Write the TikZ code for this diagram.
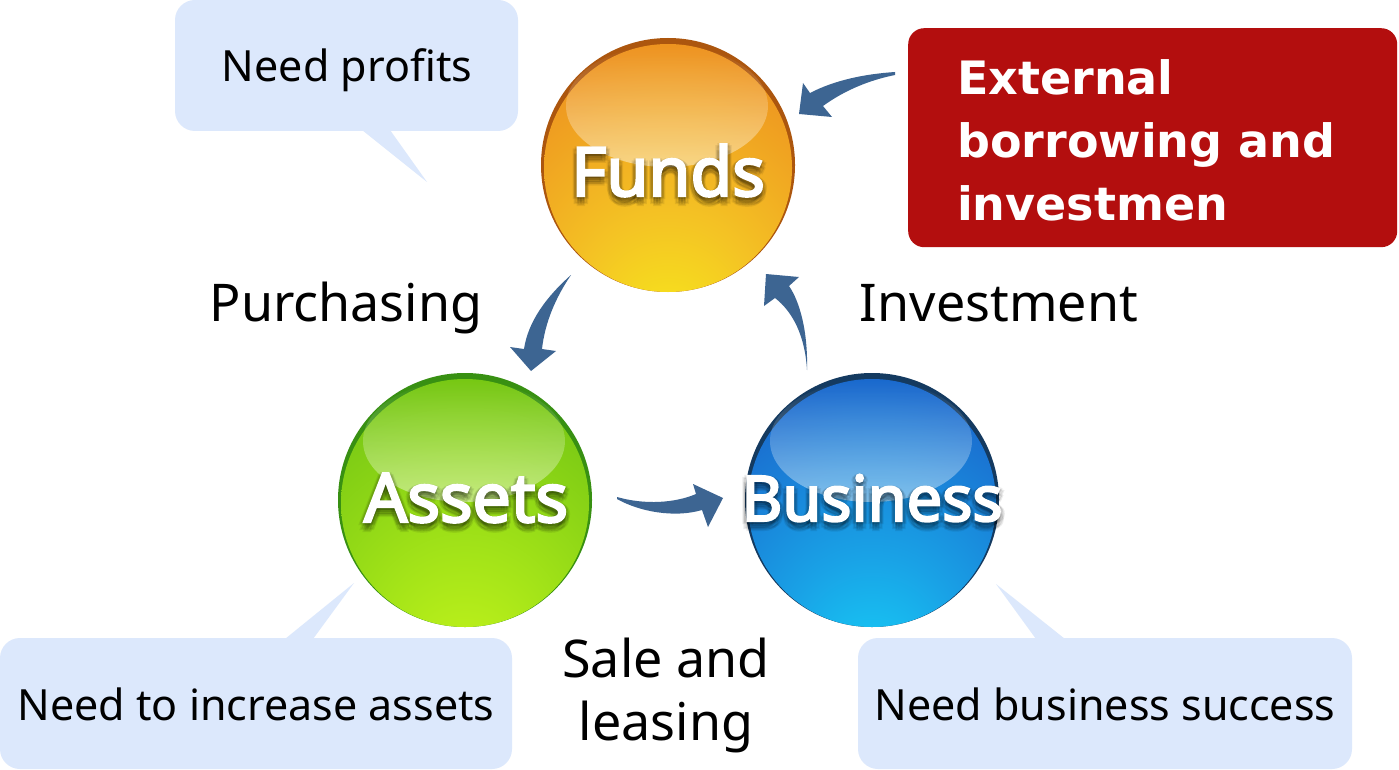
\documentclass[tikz,border=0pt]{standalone}
\usepackage{fontspec}
\setmainfont{Noto Sans}
\newfontfamily\sphfont{Noto Sans}[FakeBold=3.4]
\newfontfamily\extfont{DejaVu Sans}
\usetikzlibrary{fadings}
\definecolor{callbg}{HTML}{DCE8FC}
\definecolor{redbox}{HTML}{B30E0E}
\definecolor{arrowblue}{HTML}{3D6592}
% Funds
\definecolor{fA}{HTML}{F7EC1A}\definecolor{fB}{HTML}{F4C424}\definecolor{fC}{HTML}{EE9420}\definecolor{fD}{HTML}{E8841A}\definecolor{fRim}{HTML}{AC560E}
% Assets
\definecolor{aA}{HTML}{C6F51C}\definecolor{aB}{HTML}{A4E418}\definecolor{aC}{HTML}{78C814}\definecolor{aD}{HTML}{5AB410}\definecolor{aRim}{HTML}{389012}
% Business
\definecolor{bA}{HTML}{16D2F8}\definecolor{bB}{HTML}{19A2E6}\definecolor{bC}{HTML}{1A6ACE}\definecolor{bD}{HTML}{1A50B2}\definecolor{bRim}{HTML}{143A60}
\pgfdeclareradialshading{fundsshade}{\pgfpoint{0bp}{-36bp}}{color(0bp)=(fA); color(18bp)=(fB); color(42bp)=(fC); color(86bp)=(fD)}
\pgfdeclareradialshading{assetsshade}{\pgfpoint{0bp}{-36bp}}{color(0bp)=(aA); color(18bp)=(aB); color(42bp)=(aC); color(86bp)=(aD)}
\pgfdeclareradialshading{businessshade}{\pgfpoint{0bp}{-36bp}}{color(0bp)=(bA); color(18bp)=(bB); color(42bp)=(bC); color(86bp)=(bD)}
\tikzset{
  calloutbox/.style={fill=callbg, rounded corners=20pt},
  callouttext/.style={inner sep=0pt, anchor=base, font=\fontsize{43}{50}\selectfont},
  flowlabel/.style={inner sep=0pt, anchor=base, font=\fontsize{52}{62}\selectfont},
  sphlabel/.style={inner sep=0pt, anchor=base},
  exttext/.style={inner sep=0pt, anchor=base west, text=white, font=\extfont\bfseries\fontsize{46}{56}\selectfont},
  flowarrow/.style={fill=arrowblue},
  highlight/.style={fill=white, path fading=north, fill opacity=0.45}
}
\newcommand\sphere[3]{% center name, rim colour, shading
  \fill[#2] (#1) circle[radius=127pt];
  \shade[shading=#3] ([yshift=-3pt]#1) circle[radius=124pt];
  \fill[highlight] ([shift={(-1,-59)}]#1) ellipse[x radius=101pt, y radius=61pt];
}
\newcommand\glowlabel[4]{% base point, node name, size, text
  \foreach \dx/\dy in {-4/2,4/2,0/5,-3/7,3/7,0/9,-2/0,2/0,0/3} {
    \node[sphlabel, text=black, opacity=0.075, font=\sphfont\fontsize{#3}{#3}\selectfont] at ([shift={(\dx,\dy)}]#1) {#4};
  }
  \node[sphlabel, text=white, font=\sphfont\fontsize{#3}{#3}\selectfont] (#2) at (#1) {#4};
}
\begin{document}
\begin{tikzpicture}[x=1pt,y=-1pt]
\useasboundingbox (0,0) rectangle (1399,770);
\fill[white] (0,0) rectangle (1399,770);

% callouts
\fill[calloutbox] (175,0) rectangle (518,131);
\fill[callbg] (362,130) -- (390,130) -- (427,182) -- cycle;
\node[callouttext] (needprofits) at (347,82) {Need profits};

\fill[calloutbox] (0,638) rectangle (512,769);
\fill[callbg] (285,639) -- (313,639) -- (354,583) -- cycle;
\node[callouttext] (needassets) at (256,720) {Need to increase assets};

\fill[calloutbox] (858,638) rectangle (1352,769);
\fill[callbg] (1036,639) -- (1065,639) -- (996,584) -- cycle;
\node[callouttext] (needbusiness) at (1105,720) {Need business success};

% external box
\node[fill=redbox, rounded corners=16pt, minimum width=489pt, minimum height=219pt, anchor=north west, inner sep=0pt] (ext) at (908,28) {};
\node[exttext] (ext1) at (957,95) {External};
\node[exttext] (ext2) at (957,158) {borrowing and};
\node[exttext] (ext3) at (957,220) {investmen};

% spheres
\coordinate (fundsC) at (668,165);
\coordinate (assetsC) at (465,500);
\coordinate (businessC) at (872,500);
\sphere{fundsC}{fRim}{fundsshade}
\sphere{assetsC}{aRim}{assetsshade}
\sphere{businessC}{bRim}{businessshade}

\coordinate (fundsB) at (668,196);
\coordinate (assetsB) at (466,522);
\coordinate (businessB) at (872,521);
\glowlabel{fundsB}{funds}{68}{Funds}
\glowlabel{assetsB}{assets}{68}{Assets}
\glowlabel{businessB}{business}{63}{Business}

% flow labels
\node[flowlabel] (purchasing) at (346,321) {Purchasing};
\node[flowlabel] (investment) at (999,321) {Investment};
\node[flowlabel] (sale1) at (666,677) {Sale and};
\node[flowlabel] (sale2) at (666,740) {leasing};

% arrows
\fill[flowarrow] (571,275) .. controls (546,297) and (528,322) .. (524,349) -- (510,347) -- (531,371) -- (556,351) -- (542,349) .. controls (545,322) and (556,297) .. cycle;
\fill[flowarrow] (807,370) .. controls (805,336) and (793,312) .. (775,298) -- (764,306) -- (766,274) -- (799,277) -- (789,286) .. controls (800,302) and (808,332) .. cycle;
\fill[flowarrow] (895,72) .. controls (865,74) and (835,80) .. (810,93) -- (803,83) -- (799,114) -- (832,117) -- (823,106) .. controls (845,90) and (870,80) .. (895,75) -- cycle;
\fill[flowarrow] (617,497) .. controls (645,505) and (675,503) .. (696,494) -- (693,484) -- (723,498) -- (708,527) -- (702,510) .. controls (675,518) and (640,512) .. (617,499) -- cycle;
\end{tikzpicture}
\end{document}
